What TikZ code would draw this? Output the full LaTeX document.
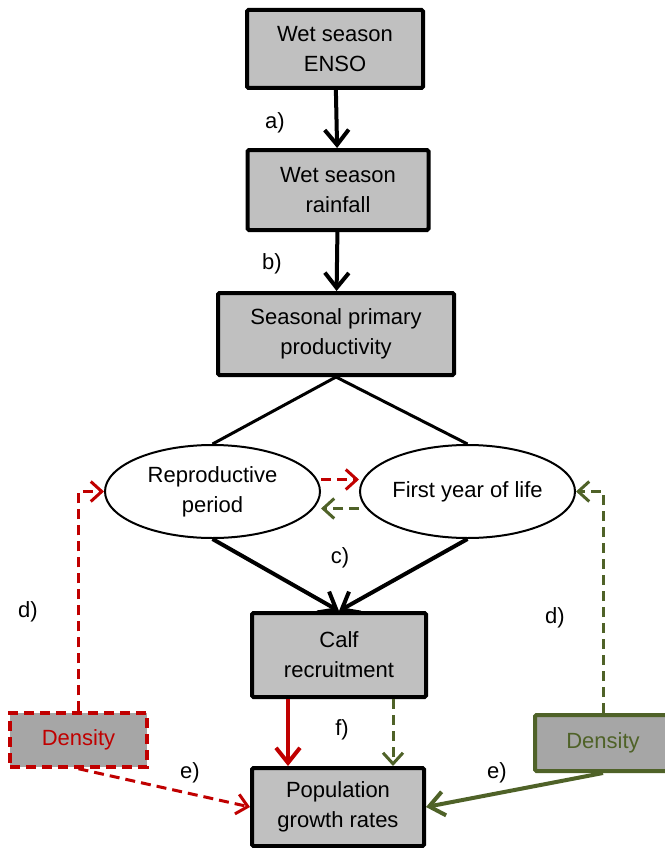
\documentclass[tikz,border=0pt]{standalone}
\usepackage{fontspec}
\setmainfont{Liberation Sans}
\usepackage{tikz}
\usetikzlibrary{arrows.meta,calc,positioning,shapes.geometric}

\definecolor{densred}{RGB}{192,0,0}
\definecolor{densgreen}{RGB}{79,98,40}
\definecolor{boxgray}{RGB}{192,192,192}
\definecolor{densgray}{RGB}{166,166,166}

\begin{document}
\begin{tikzpicture}[
    x=1pt, y=-1pt,
    font=\fontsize{22}{30}\selectfont,
    procbox/.style={draw=black,line width=4pt,fill=boxgray,align=center,
        rounded corners=1.5pt,inner sep=0pt},
    stagenode/.style={draw=black,line width=2pt,fill=white,ellipse,align=center,
        inner sep=0pt,minimum width=215pt,minimum height=93pt},
    flow/.style={draw=black,line width=4pt,-{Straight Barb[length=15pt,width=24pt]}},
    redlink/.style={draw=densred,line width=3pt,dash pattern=on 10pt off 6pt,
        -{Straight Barb[length=11pt,width=20pt]}},
    greenlink/.style={draw=densgreen,line width=3pt,dash pattern=on 10pt off 6pt,
        -{Straight Barb[length=11pt,width=20pt]}},
    steplabel/.style={inner sep=0pt}
]

\useasboundingbox (0,0) rectangle (664,848);

% Drivers
\node[procbox,minimum width=176pt,minimum height=78pt] (enso) at (335,49)
    {Wet season\\ENSO};
\node[procbox,minimum width=181pt,minimum height=80pt] (rain) at (338,190)
    {Wet season\\rainfall};
\node[procbox,minimum width=236pt,minimum height=82pt] (prod) at (336,334)
    {Seasonal primary\\productivity};

% Life stages
\node[stagenode] (repro) at (212.5,491.5) {Reproductive\\period};
\node[stagenode] (first) at (467.5,491.5) {First year of life};

% Outcomes
\node[procbox,minimum width=174pt,minimum height=84pt] (calf) at (339,655)
    {Calf\\recruitment};
\node[procbox,minimum width=172pt,minimum height=78pt] (pop) at (338,807)
    {Population\\growth rates};

% Density boxes
\node[draw=densred,line width=3.5pt,dash pattern=on 10pt off 6pt,fill=densgray,
    text=densred,minimum width=137pt,minimum height=54pt,inner sep=0pt]
    (reddens) at (78.5,740) {Density};
\node[draw=densgreen,line width=4pt,fill=densgray,rounded corners=1.5pt,
    text=densgreen,minimum width=136pt,minimum height=56pt,inner sep=0pt]
    (greendens) at (603,743) {Density};

% ===== Climate chain =====
\draw[flow] (enso) -- (rain);
\draw[flow] (rain) -- (prod);

\draw[line width=3pt] (prod.south) -- (repro.north);
\draw[line width=3pt] (prod.south) -- (first.north);

\draw[flow] (repro.south) -- (calf.north);
\draw[flow] (first.south) -- (calf.north);

% ===== Between stages =====
\draw[redlink] ([yshift=12pt]repro.east) -- ([yshift=12pt]first.west);
\draw[greenlink] ([yshift=-17pt]first.west) -- ([yshift=-17pt]repro.east);

% ===== Density effects =====
\draw[redlink] (reddens.north) |- (repro.west);
\draw[greenlink] (greendens.north) |- (first.east);

\draw[redlink] (reddens.south) -- (pop.west);
\draw[draw=densgreen,line width=4pt,-{Straight Barb[length=15pt,width=24pt]}]
    (greendens.south) -- (pop.east);

% f) links
\draw[draw=densred,line width=4pt,-{Straight Barb[length=15pt,width=24pt]}]
    ([xshift=-51pt]calf.south) -- ([xshift=-50pt]pop.north);
\draw[greenlink] ([xshift=54pt]calf.south) -- ([xshift=55pt]pop.north);

% Labels
\node[steplabel] (la) at (275,123) {a)};
\node[steplabel] (lb) at (272,264) {b)};
\node[steplabel] (lc) at (340,558) {c)};
\node[steplabel] (ld1) at (28,612) {d)};
\node[steplabel] (ld2) at (555,618) {d)};
\node[steplabel] (le1) at (190,773) {e)};
\node[steplabel] (le2) at (497,773) {e)};
\node[steplabel] (lf) at (342,730) {f)};

\end{tikzpicture}
\end{document}
